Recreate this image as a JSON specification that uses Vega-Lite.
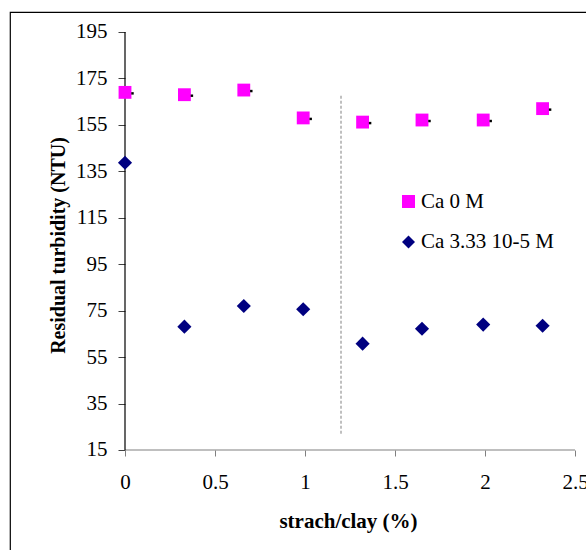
{
  "$schema": "https://vega.github.io/schema/vega-lite/v6.json",
  "width": 600,
  "height": 560,
  "autosize": "none",
  "padding": {"left": 10, "top": 12, "right": 0, "bottom": 0},
  "background": "white",
  "config": {
    "font": "'Liberation Serif', 'Times New Roman', Times, serif",
    "view": {"stroke": "black", "strokeWidth": 1.2}
  },
  "datasets": {
    "points": [
      {"x": 0, "y": 169, "s": "Ca 0 M"},
      {"x": 0.33, "y": 168, "s": "Ca 0 M"},
      {"x": 0.66, "y": 170, "s": "Ca 0 M"},
      {"x": 0.99, "y": 158, "s": "Ca 0 M"},
      {"x": 1.32, "y": 156.2, "s": "Ca 0 M"},
      {"x": 1.65, "y": 157.1, "s": "Ca 0 M"},
      {"x": 1.99, "y": 157.1, "s": "Ca 0 M"},
      {"x": 2.32, "y": 162, "s": "Ca 0 M"},
      {"x": 0, "y": 138.7, "s": "Ca 3.33 10-5 M"},
      {"x": 0.33, "y": 68.1, "s": "Ca 3.33 10-5 M"},
      {"x": 0.66, "y": 77, "s": "Ca 3.33 10-5 M"},
      {"x": 0.99, "y": 75.6, "s": "Ca 3.33 10-5 M"},
      {"x": 1.32, "y": 60.8, "s": "Ca 3.33 10-5 M"},
      {"x": 1.65, "y": 67.2, "s": "Ca 3.33 10-5 M"},
      {"x": 1.99, "y": 69, "s": "Ca 3.33 10-5 M"},
      {"x": 2.32, "y": 68.5, "s": "Ca 3.33 10-5 M"}
    ],
    "xline": [{"x": 0, "x2": 2.5, "y": 15}],
    "yline": [{"x": 0, "y": 15, "y2": 195}],
    "divider": [{"x": 1.2, "y": 22, "y2": 168}]
  },
  "encoding": {
    "x": {
      "field": "x",
      "type": "quantitative",
      "scale": {"domain": [-0.63889, 2.69444], "nice": false, "zero": false},
      "axis": {
        "orient": "bottom",
        "offset": -122,
        "values": [0, 0.5, 1, 1.5, 2, 2.5],
        "format": "~g",
        "domain": false,
        "grid": false,
        "tickSize": 6,
        "tickColor": "#808080",
        "tickWidth": 1,
        "labelFont": "'Liberation Serif', 'Times New Roman', Times, serif",
        "labelFontSize": 21,
        "labelColor": "black",
        "labelPadding": 15,
        "labelFlush": false,
        "title": "strach/clay (%)",
        "titleFont": "'Liberation Serif', 'Times New Roman', Times, serif",
        "titleFontSize": 21,
        "titleFontWeight": "bold",
        "titleColor": "black",
        "titleX": 338,
        "titleY": 77,
        "titleAlign": "center",
        "titleBaseline": "alphabetic"
      }
    },
    "y": {
      "field": "y",
      "type": "quantitative",
      "scale": {"domain": [-37.536, 203.612], "nice": false, "zero": false},
      "axis": {
        "orient": "left",
        "offset": -115,
        "values": [15, 35, 55, 75, 95, 115, 135, 155, 175, 195],
        "format": "d",
        "domain": false,
        "grid": false,
        "tickSize": 7,
        "tickColor": "#404040",
        "tickWidth": 1,
        "labelFont": "'Liberation Serif', 'Times New Roman', Times, serif",
        "labelFontSize": 21,
        "labelColor": "black",
        "labelPadding": 11,
        "labelFlush": false,
        "title": "Residual turbidity (NTU)",
        "titleFont": "'Liberation Serif', 'Times New Roman', Times, serif",
        "titleFontSize": 20,
        "titleFontWeight": "bold",
        "titleColor": "black",
        "titleAngle": -90,
        "titleX": -61,
        "titleY": 233,
        "titleAlign": "center",
        "titleBaseline": "alphabetic"
      }
    }
  },
  "layer": [
    {
      "data": {"name": "divider"},
      "mark": {"type": "rule", "color": "#808080", "strokeWidth": 1, "strokeDash": [3, 2]},
      "encoding": {"y2": {"field": "y2"}}
    },
    {
      "data": {"name": "xline"},
      "mark": {"type": "rule", "color": "#808080", "strokeWidth": 1.2},
      "encoding": {"x2": {"field": "x2"}}
    },
    {
      "data": {"name": "yline"},
      "mark": {"type": "rule", "color": "black", "strokeWidth": 1.2},
      "encoding": {"y2": {"field": "y2"}}
    },
    {
      "data": {"name": "points"},
      "transform": [{"filter": "datum.s === 'Ca 0 M'"}],
      "mark": {"type": "point", "filled": true, "opacity": 1, "size": 165, "strokeWidth": 0},
      "encoding": {
        "color": {
          "field": "s",
          "type": "nominal",
          "scale": {"domain": ["Ca 0 M", "Ca 3.33 10-5 M"], "range": ["#FF00FF", "#000080"]},
          "legend": {
            "orient": "none",
            "legendX": 388,
            "legendY": 179,
            "title": null,
            "labelFont": "'Liberation Serif', 'Times New Roman', Times, serif",
            "labelFontSize": 21,
            "labelColor": "black",
            "labelOffset": 2,
            "symbolSize": 170,
            "symbolStrokeWidth": 0,
            "rowPadding": 18.5
          }
        },
        "shape": {
          "field": "s",
          "type": "nominal",
          "scale": {"domain": ["Ca 0 M", "Ca 3.33 10-5 M"], "range": ["square", "diamond"]}
        }
      }
    },
    {
      "data": {"name": "points"},
      "transform": [{"filter": "datum.s === 'Ca 0 M'"}],
      "mark": {"type": "point", "shape": "square", "filled": true, "color": "black", "opacity": 1, "size": 6, "strokeWidth": 0, "xOffset": 7.5, "yOffset": 1}
    },
    {
      "data": {"name": "points"},
      "transform": [{"filter": "datum.s === 'Ca 3.33 10-5 M'"}],
      "mark": {"type": "point", "filled": true, "opacity": 1, "size": 200, "strokeWidth": 0},
      "encoding": {
        "color": {"field": "s", "type": "nominal", "scale": {"domain": ["Ca 0 M", "Ca 3.33 10-5 M"], "range": ["#FF00FF", "#000080"]}},
        "shape": {"field": "s", "type": "nominal", "scale": {"domain": ["Ca 0 M", "Ca 3.33 10-5 M"], "range": ["square", "diamond"]}}
      }
    }
  ]
}
